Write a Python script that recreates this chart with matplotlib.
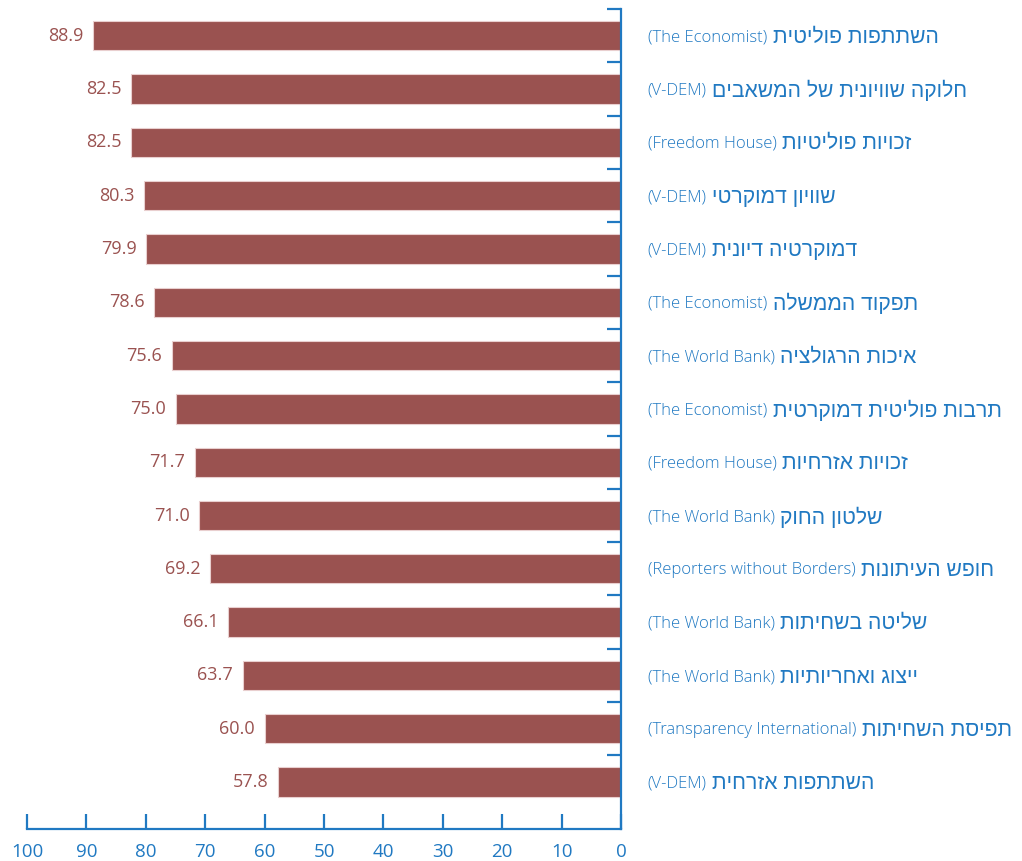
import matplotlib
matplotlib.use("Agg")
import matplotlib.pyplot as plt
import numpy as np

labels_he = [
    "השתתפות פוליטית",
    "חלוקה שוויונית של המשאבים",
    "זכויות פוליטיות",
    "שוויון דמוקרטי",
    "דמוקרטיה דיונית",
    "תפקוד הממשלה",
    "איכות הרגולציה",
    "תרבות פוליטית דמוקרטית",
    "זכויות אזרחיות",
    "שלטון החוק",
    "חופש העיתונות",
    "שליטה בשחיתות",
    "ייצוג ואחריותיות",
    "תפיסת השחיתות",
    "השתתפות אזרחית",
]
sources = [
    "The Economist", "V-DEM", "Freedom House", "V-DEM", "V-DEM",
    "The Economist", "The World Bank", "The Economist", "Freedom House",
    "The World Bank", "Reporters without Borders", "The World Bank",
    "The World Bank", "Transparency International", "V-DEM",
]
values = [88.9, 82.5, 82.5, 80.3, 79.9, 78.6, 75.6, 75.0, 71.7, 71.0,
          69.2, 66.1, 63.7, 60.0, 57.8]
xticks = [100, 90, 80, 70, 60, 50, 40, 30, 20, 10, 0]

BAR = "#9A5250"
BLUE = "#2079C2"
FONT = ["Open Sans", "DejaVu Sans"]
HEB_FONT = ["Liberation Sans", "DejaVu Sans"]
plt.rcParams["font.family"] = FONT

fig = plt.figure(figsize=(10.22, 8.61), dpi=100)
ax = fig.add_axes([27 / 1022, 32 / 861, 594 / 1022, 820 / 861])

y = np.arange(len(values))
ax.barh(y, values, height=0.55, color=BAR, edgecolor="#E9CFCF", linewidth=0.8)

ax.set_xlim(100, 0)
ax.set_ylim(14.88, -0.5)

for s in ["top", "left"]:
    ax.spines[s].set_visible(False)
for s in ["right", "bottom"]:
    ax.spines[s].set_color(BLUE)
    ax.spines[s].set_linewidth(1.6)

ax.set_xticks(xticks)
ax.set_xticklabels([str(t) for t in xticks])
ax.tick_params(axis="x", direction="in", length=11, width=1.6, color=BLUE,
               labelcolor=BLUE, labelsize=13.5, pad=10)

ax.yaxis.tick_right()
ax.set_yticks(np.arange(len(values)) - 0.5)
ax.set_yticklabels([])
ax.tick_params(axis="y", direction="in", length=10, width=1.6, color=BLUE)

for i, v in enumerate(values):
    ax.annotate(f"{v:.1f}", xy=(v, i), xytext=(-7, 0), textcoords="offset points",
                ha="right", va="center", color=BAR, fontsize=13, fontweight="medium")

tr = ax.get_yaxis_transform()
for i, (he, src) in enumerate(zip(labels_he, sources)):
    t = ax.text(1.045, i + 0.03, "(" + src + ")", transform=tr, ha="left", va="center",
                color=BLUE, fontsize=12.0, fontweight="light")
    ax.annotate(he[::-1], xy=(1, 0.5), xycoords=t, xytext=(4, 0),
                textcoords="offset points", ha="left", va="center",
                color=BLUE, fontsize=15.2, family=HEB_FONT)

fig.savefig("out.png", dpi=100)
